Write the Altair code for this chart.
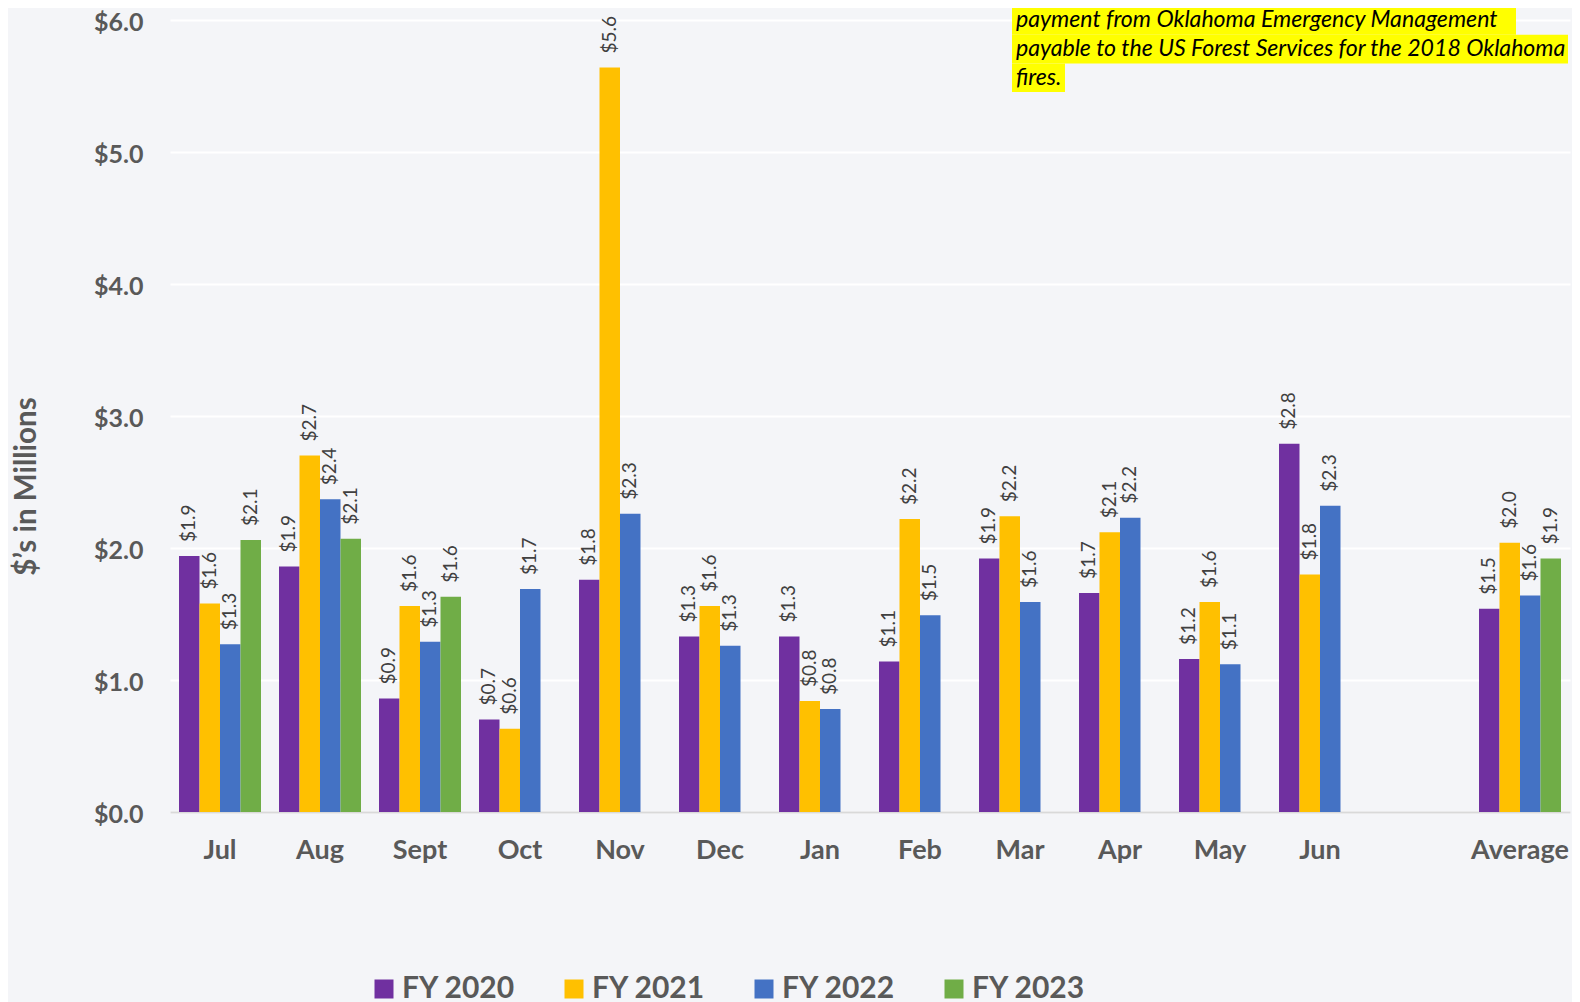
import altair as alt
import pandas as pd

months = ["Jul", "Aug", "Sept", "Oct", "Nov", "Dec", "Jan", "Feb", "Mar", "Apr",
          "May", "Jun", " ", "Average"]
series = ["FY 2020", "FY 2021", "FY 2022", "FY 2023"]
colors = ["#7030A0", "#FFC000", "#4472C4", "#70AD47"]

fy2020 = [1.94, 1.86, 0.86, 0.70, 1.76, 1.33, 1.33, 1.14, 1.92, 1.66, 1.16, 2.79, None, 1.54]
fy2021 = [1.58, 2.70, 1.56, 0.63, 5.64, 1.56, 0.84, 2.22, 2.24, 2.12, 1.59, 1.80, None, 2.04]
fy2022 = [1.27, 2.37, 1.29, 1.69, 2.26, 1.26, 0.78, 1.49, 1.59, 2.23, 1.12, 2.32, None, 1.64]
fy2023 = [2.06, 2.07, 1.63, None, None, None, None, None, None, None, None, None, None, 1.92]

note_lines = [
    "payment from Oklahoma Emergency Management",
    "payable to the US Forest Services for the 2018 Oklahoma",
    "fires.",
]

rows = []
for s, vals in zip(series, [fy2020, fy2021, fy2022, fy2023]):
    for m, v in zip(months, vals):
        if v is not None:
            rows.append({"month": m, "series": s, "value": v})
df = pd.DataFrame(rows)

FONT = "Lato"
GRAY = "#595959"

x_enc = alt.X(
    "month:N",
    scale=alt.Scale(domain=months, paddingInner=0.18, paddingOuter=0.09),
    axis=alt.Axis(labelFont=FONT, labelFontSize=27, labelFontWeight="bold",
                  labelColor=GRAY, labelPadding=25, ticks=False, grid=False,
                  domain=True, domainColor="#D9D9D9", domainWidth=2, labelAngle=0),
    title=None,
)
xo_enc = alt.XOffset("series:N", scale=alt.Scale(domain=series))
y_enc = alt.Y(
    "value:Q",
    scale=alt.Scale(domain=[0, 6], nice=False),
    axis=alt.Axis(values=[0, 1, 2, 3, 4, 5, 6], format="$.1f", labelFont=FONT,
                  labelFontSize=25, labelFontWeight="bold", labelColor=GRAY,
                  labelPadding=27, labelOffset=2, domain=False, ticks=False, grid=True,
                  gridColor="white", gridWidth=2,
                  title="$’s in Millions", titleFont=FONT, titleFontSize=29.5,
                  titleFontWeight="bold", titleColor=GRAY, titleX=-144, titleY=466,
                  titleAngle=270, titleAlign="center", titleBaseline="middle"),
)

base = alt.Chart(df)
bars = base.mark_bar().encode(
    x=x_enc, xOffset=xo_enc, y=y_enc,
    color=alt.Color("series:N", scale=alt.Scale(domain=series, range=colors),
                    legend=alt.Legend(title=None, orient="none", legendX=199, legendY=954,
                                      direction="horizontal", symbolType="square",
                                      symbolSize=361, symbolStrokeWidth=0,
                                      labelFont=FONT, labelFontSize=30,
                                      labelFontWeight="bold", labelColor=GRAY,
                                      columnPadding=43, labelOffset=3)),
)
labels = base.mark_text(angle=270, align="left", baseline="middle", dx=14,
                        font=FONT, fontSize=19, color="#404040").encode(
    x=x_enc, xOffset=xo_enc, y=y_enc,
    text=alt.Text("value:Q", format="$.1f"),
)

# annotation highlight boxes and text (pixel positions, note box)
line_h = 28.7
first_top = -14
right_edges = [1346, 1398, 895]
note_layers = []
for i, (line, r) in enumerate(zip(note_lines, right_edges)):
    ndf = pd.DataFrame({"t": [line]})
    top = first_top + i * line_h
    note_layers.append(alt.Chart(ndf).mark_rect(color="#FFFF00").encode(
        x=alt.value(842), x2=alt.value(r), y=alt.value(top), y2=alt.value(top + line_h)))
    note_layers.append(alt.Chart(ndf).mark_text(
        align="left", baseline="middle", font=FONT, fontSize=23.1, fontStyle="italic",
        color="black").encode(x=alt.value(846), y=alt.value(top + line_h / 2), text="t:N"))

chart = alt.layer(bars, labels, *note_layers).properties(
    width=1400, height=792,
    autosize=alt.AutoSizeParams(type="none"),
    padding={"left": 162, "top": 12, "right": 2, "bottom": 190},
    background="#F4F5F8",
).configure_view(stroke=None)

chart.save("out.html", embed_options={"renderer": "svg", "actions": False})
